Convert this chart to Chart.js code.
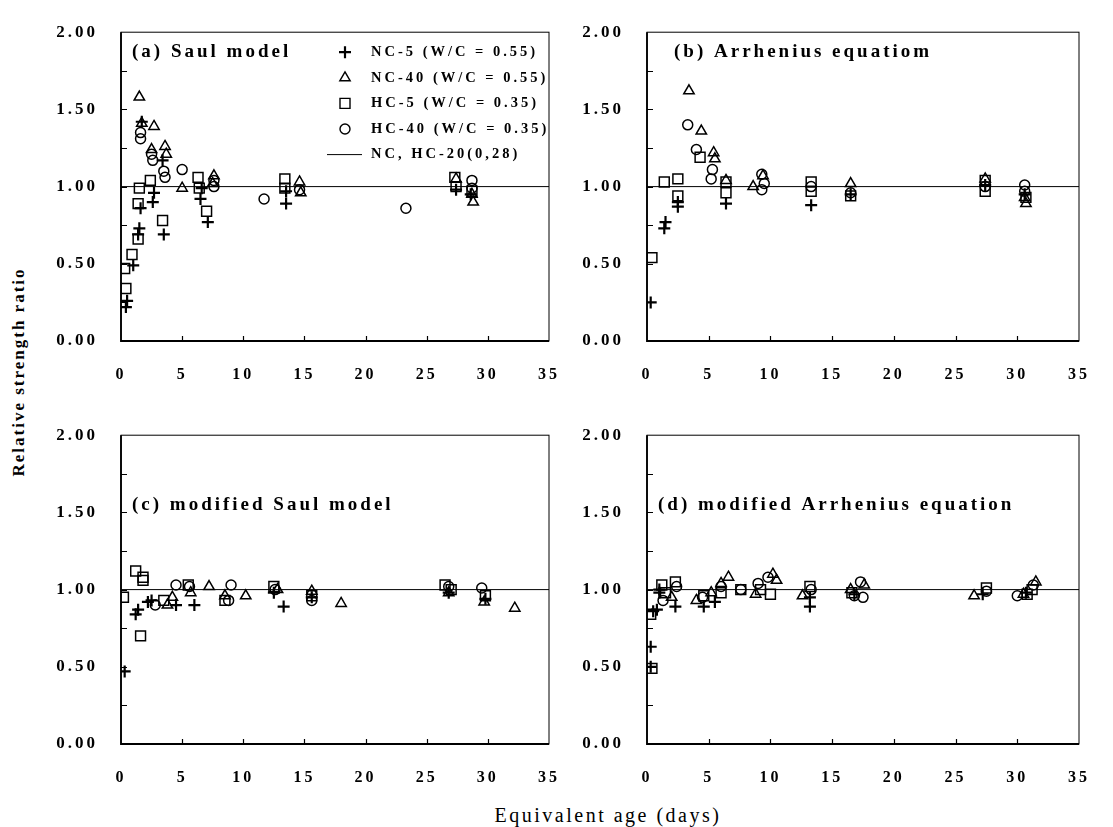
<!DOCTYPE html>
<html>
<head>
<meta charset="utf-8">
<script src="https://cdn.jsdelivr.net/npm/chart.js@4.4.1/dist/chart.umd.min.js"></script>
<style>
  body { margin:0; background:#fff; width:1113px; height:827px; position:relative; overflow:hidden; }
  canvas { position:absolute; }
  .ytitle { position:absolute; left:19px; top:372px; transform:translate(-50%,-50%) rotate(-90deg);
    font:bold 17px "Liberation Serif"; letter-spacing:2px; white-space:nowrap; color:#000; }
  .xtitle { position:absolute; left:608px; top:815px; transform:translate(-50%,-50%);
    font:20px "Liberation Serif"; letter-spacing:2.5px; white-space:nowrap; color:#000; }
</style>
</head>
<body>
<canvas id="pa" width="522" height="379" style="left:51px;top:7px"></canvas>
<canvas id="pb" width="526" height="379" style="left:577px;top:7px"></canvas>
<canvas id="pc" width="522" height="379" style="left:51px;top:410px"></canvas>
<canvas id="pd" width="526" height="379" style="left:577px;top:410px"></canvas>
<div class="ytitle">Relative strength ratio</div>
<div class="xtitle">Equivalent age (days)</div>
<script>
// values: [age (days), strength ratio]
const saulNC5 = [[0.4,0.22],[0.5,0.26],[1.0,0.49],[1.4,0.69],[1.5,0.73],[1.6,0.86],[1.7,1.42],[2.6,0.90],[2.7,0.96],[3.5,0.69],[3.4,1.17],[6.5,0.92],[6.6,0.99],[7.1,0.77],[13.5,0.89],[13.5,0.97],[27.4,0.98],[28.6,0.95]]
const saulNC40 = [[1.5,1.58],[1.7,1.41],[2.7,1.39],[2.5,1.24],[3.6,1.26],[3.7,1.21],[5.0,0.99],[7.6,1.07],[7.5,1.02],[14.6,1.03],[14.7,0.96],[27.4,1.05],[28.7,0.95],[28.8,0.90]]
const saulHC5 = [[0.3,0.47],[0.4,0.34],[0.9,0.56],[1.4,0.66],[1.4,0.89],[1.5,0.99],[2.4,1.04],[3.4,0.78],[6.3,1.06],[6.4,0.99],[7.0,0.84],[13.4,1.05],[13.4,0.99],[27.3,1.06],[27.4,1.00],[28.7,0.97]]
const saulHC40 = [[1.6,1.35],[1.6,1.31],[2.5,1.21],[2.6,1.17],[3.5,1.10],[3.6,1.06],[5.0,1.11],[7.6,1.04],[7.6,1.00],[11.7,0.92],[14.6,0.98],[23.3,0.86],[28.7,1.04],[28.7,0.99]]

const arrNC5 = [[0.3,0.25],[1.4,0.73],[1.5,0.77],[2.5,0.87],[2.5,0.90],[6.4,0.89],[13.3,0.88],[16.5,0.95],[27.4,1.01],[30.6,0.95]]
const arrNC40 = [[3.4,1.62],[4.4,1.36],[5.4,1.22],[5.5,1.18],[6.4,1.04],[8.6,1.00],[9.4,1.07],[16.5,1.02],[27.4,1.05],[30.7,0.89],[30.6,0.93]]
const arrHC5 = [[0.4,0.54],[1.4,1.03],[2.5,1.05],[2.5,0.94],[4.3,1.19],[6.4,1.03],[6.4,0.96],[13.3,1.03],[13.3,0.97],[16.5,0.94],[27.4,1.04],[27.4,0.97],[30.7,0.93]]
const arrHC40 = [[3.3,1.40],[4.0,1.24],[5.3,1.11],[5.2,1.05],[9.3,1.08],[9.3,0.98],[9.5,1.02],[13.3,1.00],[16.5,0.96],[27.4,1.00],[30.6,1.01],[30.6,0.97]]

const mSaulNC5 = [[0.3,0.47],[1.2,0.84],[1.4,0.87],[2.2,0.92],[2.5,0.93],[4.5,0.90],[6.0,0.90],[12.5,0.98],[13.3,0.89],[15.6,0.95],[26.8,0.98],[29.8,0.94]]
const mSaulNC40 = [[3.8,0.90],[4.2,0.95],[5.7,0.98],[7.2,1.02],[8.5,0.96],[10.2,0.96],[12.8,1.00],[15.6,0.99],[18.0,0.91],[26.8,0.98],[29.7,0.92],[32.2,0.88]]
const mSaulHC5 = [[0.2,0.95],[1.2,1.12],[1.8,1.08],[1.8,1.06],[1.6,0.70],[3.5,0.93],[5.5,1.03],[8.5,0.93],[12.5,1.02],[15.6,0.96],[26.5,1.03],[27.0,1.00],[29.8,0.96]]
const mSaulHC40 = [[2.8,0.90],[4.5,1.03],[5.6,1.02],[8.8,0.93],[9.0,1.03],[12.6,1.00],[15.6,0.93],[26.8,1.02],[29.5,1.01]]

const mArrNC5 = [[0.3,0.63],[0.3,0.50],[0.5,0.86],[0.8,0.87],[1.0,0.98],[1.0,1.00],[2.3,0.89],[4.6,0.89],[5.5,0.92],[13.2,0.89],[13.2,0.95],[16.8,0.97],[27.2,0.97],[30.7,0.98]]
const mArrNC40 = [[2.0,0.95],[4.0,0.93],[5.2,0.98],[6.0,1.04],[6.6,1.08],[8.8,0.97],[10.2,1.10],[10.5,1.06],[12.6,0.96],[16.5,1.00],[17.6,1.03],[26.5,0.96],[30.5,0.97],[31.5,1.05]]
const mArrHC5 = [[0.4,0.49],[0.3,0.84],[1.2,1.03],[1.5,0.98],[2.3,1.05],[4.6,0.96],[6.0,0.98],[7.6,1.00],[9.2,1.00],[10.0,0.97],[13.2,1.02],[16.6,0.98],[27.5,1.01],[30.8,0.97],[31.2,1.00]]
const mArrHC40 = [[1.3,0.93],[2.4,1.02],[4.5,0.95],[6.0,1.02],[7.6,1.00],[9.0,1.04],[9.8,1.08],[13.3,1.00],[16.8,0.96],[17.3,1.05],[17.5,0.95],[27.5,0.99],[30.0,0.96],[31.3,1.03]]

const seriesNames = ['NC-5 (W/C = 0.55)','NC-40 (W/C = 0.55)','HC-5 (W/C = 0.35)','HC-40 (W/C = 0.35)']
const lineName = 'NC, HC-20(0,28)'
const refX = [0, 35]
const refY = 1
const xTicks = [0, 5, 10, 15, 20, 25, 30, 35]
const yTicks = [0, 0.5, 1, 1.5, 2]

const styles = [
  {pointStyle:'cross', pointRadius:6, borderWidth:2.2},
  {pointStyle:'triangle', pointRadius:6, borderWidth:1.5},
  {pointStyle:'rect', pointRadius:7, borderWidth:1.5},
  {pointStyle:'circle', pointRadius:5, borderWidth:1.5}
]
const SERIF = '"Liberation Serif", "Times New Roman", serif'

function drawMarker(ctx, kind, x, y){
  ctx.save()
  ctx.strokeStyle = '#000'
  ctx.beginPath()
  if(kind === 0){ ctx.lineWidth = 2.2; ctx.moveTo(x-6,y); ctx.lineTo(x+6,y); ctx.moveTo(x,y-6); ctx.lineTo(x,y+6) }
  else if(kind === 1){ ctx.lineWidth = 1.4; ctx.moveTo(x,y-6); ctx.lineTo(x+5.2,y+3); ctx.lineTo(x-5.2,y+3); ctx.closePath() }
  else if(kind === 2){ ctx.lineWidth = 1.4; ctx.rect(x-5,y-5,10,10) }
  else { ctx.lineWidth = 1.4; ctx.arc(x,y,5,0,Math.PI*2) }
  ctx.stroke()
  ctx.restore()
}

const framePlugin = {
  id: 'frame',
  beforeDraw(chart){
    chart.ctx.letterSpacing = '3px'
  },
  afterDraw(chart, args, opts){
    const ctx = chart.ctx
    const a = chart.chartArea
    const xs = chart.scales.x, ys = chart.scales.y
    ctx.save()
    ctx.strokeStyle = '#000'
    // box
    ctx.lineWidth = 1
    ctx.strokeRect(a.left, a.top, a.right - a.left, a.bottom - a.top)
    ctx.lineWidth = 1.8
    ctx.beginPath()
    ctx.moveTo(a.left, a.top); ctx.lineTo(a.left, a.bottom); ctx.lineTo(a.right, a.bottom)
    ctx.stroke()
    // inward tick marks
    ctx.lineWidth = 1.2
    ctx.beginPath()
    ys.ticks.forEach(t => {
      if(t.value <= 0 || t.value >= 2) return
      const py = Math.round(ys.getPixelForValue(t.value)) + 0.5
      ctx.moveTo(a.left, py); ctx.lineTo(a.left + 6, py)
    })
    xs.ticks.forEach(t => {
      if(t.value <= 0 || t.value >= 35) return
      const px = Math.round(xs.getPixelForValue(t.value)) + 0.5
      ctx.moveTo(px, a.bottom); ctx.lineTo(px, a.bottom - 5)
    })
    ctx.stroke()
    // panel label
    ctx.fillStyle = '#000'
    ctx.letterSpacing = '3px'
    ctx.font = 'bold 19px ' + SERIF
    ctx.textBaseline = 'middle'
    ctx.textAlign = 'left'
    ctx.fillText(opts.label, a.left + opts.labelDx, ys.getPixelForValue(opts.labelY))
    // legend inside panel (a)
    if(opts.legend){
      ctx.font = 'bold 14.5px ' + SERIF
      ctx.letterSpacing = '3px'
      const mx = a.left + 224, tx = a.left + 250
      seriesNames.forEach((n, i) => {
        const ly = a.top + 20 + i * 25.6
        drawMarker(ctx, i, mx, ly)
        ctx.fillText(n, tx, ly)
      })
      const ly = a.top + 20 + 4 * 25.6
      ctx.lineWidth = 1
      ctx.beginPath(); ctx.moveTo(a.left + 206, ly); ctx.lineTo(a.left + 241, ly); ctx.stroke()
      ctx.fillText(lineName, tx, ly)
    }
    ctx.restore()
  }
}

function makePanel(id, series, label, labelY, labelDx, legend){
  const datasets = series.map((s, i) => Object.assign({
    type: 'scatter',
    data: s.map(p => ({x: p[0], y: p[1]})),
    borderColor: '#000',
    backgroundColor: 'rgba(0,0,0,0)'
  }, styles[i]))
  datasets.push({
    type: 'line',
    data: refX.map(x => ({x: x, y: refY})),
    borderColor: '#000',
    borderWidth: 1,
    pointRadius: 0
  })
  new Chart(document.getElementById(id), {
    type: 'scatter',
    data: { datasets: datasets },
    options: {
      responsive: false,
      animation: false,
      devicePixelRatio: 1,
      layout: { padding: { top: 10, right: 10, left: 0, bottom: 0 } },
      plugins: {
        legend: { display: false },
        tooltip: { enabled: false },
        frame: { label: label, labelY: labelY, labelDx: labelDx, legend: legend }
      },
      scales: {
        x: {
          type: 'linear', min: 0, max: 35,
          afterFit: s => { s.height = 45 },
          afterBuildTicks: s => { s.ticks = xTicks.map(v => ({value: v})) },
          grid: { display: false },
          border: { display: false },
          ticks: { color: '#000', padding: 16, maxRotation: 0, autoSkip: false,
            font: { family: SERIF, size: 16, weight: 'bold' } }
        },
        y: {
          type: 'linear', min: 0, max: 2,
          afterFit: s => { s.width = 70 },
          ticks: { stepSize: 0.25, autoSkip: false, color: '#000', padding: 15,
            font: { family: SERIF, size: 17, weight: 'bold' },
            callback: v => yTicks.includes(v) ? v.toFixed(2) : '' },
          grid: { display: false },
          border: { display: false }
        }
      }
    },
    plugins: [framePlugin]
  })
}

makePanel('pa', [saulNC5, saulNC40, saulHC5, saulHC40], '(a) Saul model', 1.87, 11, true)
makePanel('pb', [arrNC5, arrNC40, arrHC5, arrHC40], '(b) Arrhenius equatiom', 1.87, 27, false)
makePanel('pc', [mSaulNC5, mSaulNC40, mSaulHC5, mSaulHC40], '(c) modified Saul model', 1.55, 11, false)
makePanel('pd', [mArrNC5, mArrNC40, mArrHC5, mArrHC40], '(d) modified Arrhenius equation', 1.55, 11, false)
</script>
</body>
</html>
